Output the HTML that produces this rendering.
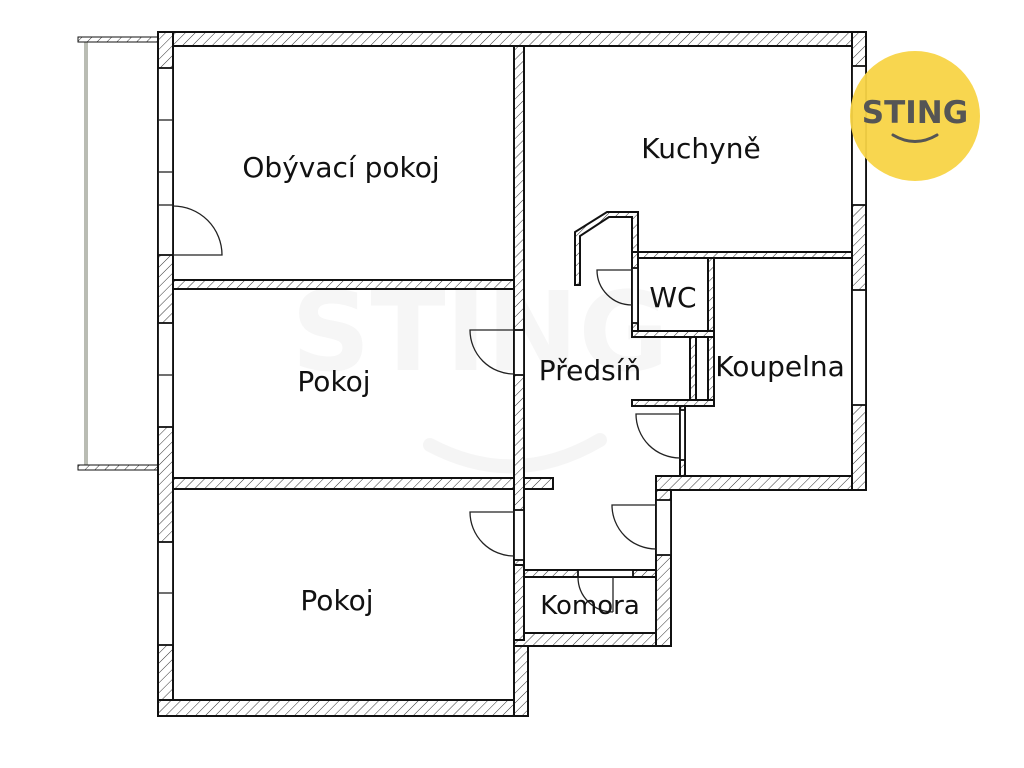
<!DOCTYPE html>
<html><head><meta charset="utf-8"><style>
html,body{margin:0;padding:0;background:#fff;width:1024px;height:768px;overflow:hidden}
svg text{font-family:"DejaVu Sans","Liberation Sans",sans-serif;fill:#111}
</style></head><body>
<svg width="1024" height="768" viewBox="0 0 1024 768" xmlns="http://www.w3.org/2000/svg">
<defs>
<pattern id="h" width="7" height="7" patternUnits="userSpaceOnUse" patternTransform="rotate(45)">
<rect width="7" height="7" fill="#fff"/><line x1="0" y1="0" x2="0" y2="7" stroke="#333" stroke-width="1"/>
</pattern>
</defs>
<!-- watermark -->
<text x="480" y="370" font-size="110" font-weight="bold" text-anchor="middle" style="fill:#f6f6f6">STING</text>
<path d="M430 445 Q515 490 600 440" stroke="#f5f5f5" stroke-width="14" fill="none" stroke-linecap="round"/>
<!-- balcony -->
<rect x="84" y="40" width="4" height="428" fill="#b9bcb3"/>
<rect x="78" y="37" width="81" height="5" fill="url(#h)" stroke="#111" stroke-width="1"/>
<rect x="78" y="465" width="81" height="5" fill="url(#h)" stroke="#111" stroke-width="1"/>
<g stroke="#111" stroke-width="2" fill="url(#h)">
<rect x="158" y="32" width="708" height="14"/>
<rect x="158" y="32" width="15" height="684"/>
<rect x="158" y="700" width="370" height="16"/>
<rect x="514" y="633" width="14" height="83"/>
<rect x="514" y="633" width="157" height="13"/>
<rect x="656" y="476" width="15" height="170"/>
<rect x="656" y="476" width="210" height="14"/>
<rect x="852" y="32" width="14" height="458"/>
<rect x="173" y="280" width="350" height="9"/>
<rect x="173" y="478" width="380" height="11"/>
<rect x="514" y="46" width="10" height="519"/>
<rect x="514" y="565" width="10" height="75"/>
<rect x="632" y="252" width="220" height="6"/>
<rect x="632" y="252" width="6" height="85"/>
<rect x="708" y="258" width="6" height="148"/>
<rect x="632" y="331" width="82" height="6"/>
<rect x="690" y="337" width="6" height="69"/>
<rect x="632" y="400" width="82" height="6"/>
<rect x="680" y="406" width="5" height="70"/>
<rect x="524" y="570" width="132" height="7"/>
<polygon points="575,285 580,285 580,236 609,217 632,217 632,252 638,252 638,212 607,212 575,232"/>
</g>
<g fill="#fff" stroke="#111" stroke-width="1.8">
<rect x="158" y="68" width="15" height="187"/>
<rect x="158" y="323" width="15" height="104"/>
<rect x="158" y="542" width="15" height="103"/>
<rect x="852" y="66" width="14" height="139"/>
<rect x="852" y="290" width="14" height="115"/>
<rect x="514" y="330" width="10" height="45"/>
<rect x="514" y="510" width="10" height="50"/>
<rect x="656" y="500" width="15" height="55"/>
<rect x="680" y="410" width="5" height="50"/>
<rect x="632" y="268" width="6" height="55"/>
<rect x="578" y="570" width="55" height="7"/>
</g>
<g stroke="#222" stroke-width="1.3" fill="none">
<line x1="158" y1="120" x2="173" y2="120"/><line x1="158" y1="172" x2="173" y2="172"/><line x1="158" y1="205" x2="173" y2="205"/>
<line x1="158" y1="375" x2="173" y2="375"/><line x1="158" y1="593" x2="173" y2="593"/>
<path d="M173 255 H222 A49 49 0 0 0 173 206"/>
<path d="M514 330 H470 A44 44 0 0 0 514 374"/>
<path d="M514 512 H470 A44 44 0 0 0 514 556"/>
<path d="M632 270 H597 A35 35 0 0 0 632 305"/>
<path d="M680 414 H636 A44 44 0 0 0 680 458"/>
<path d="M656 505 H612 A44 44 0 0 0 656 549"/>
<path d="M578 577 A35 35 0 0 0 613 612 M613 577 V612"/>
</g>
<text x="341" y="177" font-size="28" text-anchor="middle">Obývací pokoj</text>
<text x="701" y="158" font-size="28" text-anchor="middle">Kuchyně</text>
<text x="334" y="391" font-size="28" text-anchor="middle">Pokoj</text>
<text x="337" y="610" font-size="28" text-anchor="middle">Pokoj</text>
<text x="590" y="380" font-size="28" text-anchor="middle">Předsíň</text>
<text x="673" y="307" font-size="28" text-anchor="middle">WC</text>
<text x="780" y="376" font-size="28" text-anchor="middle">Koupelna</text>
<text x="590" y="614" font-size="26" text-anchor="middle">Komora</text>
<circle cx="915" cy="116" r="65" fill="#f8d446" opacity="0.95"/>
<text x="915" y="123" font-size="31" font-weight="bold" text-anchor="middle" style="fill:#555">STING</text>
<path d="M893 135 Q915 148 937 135" stroke="#555" stroke-width="3" fill="none" stroke-linecap="round"/>
</svg>
</body></html>
